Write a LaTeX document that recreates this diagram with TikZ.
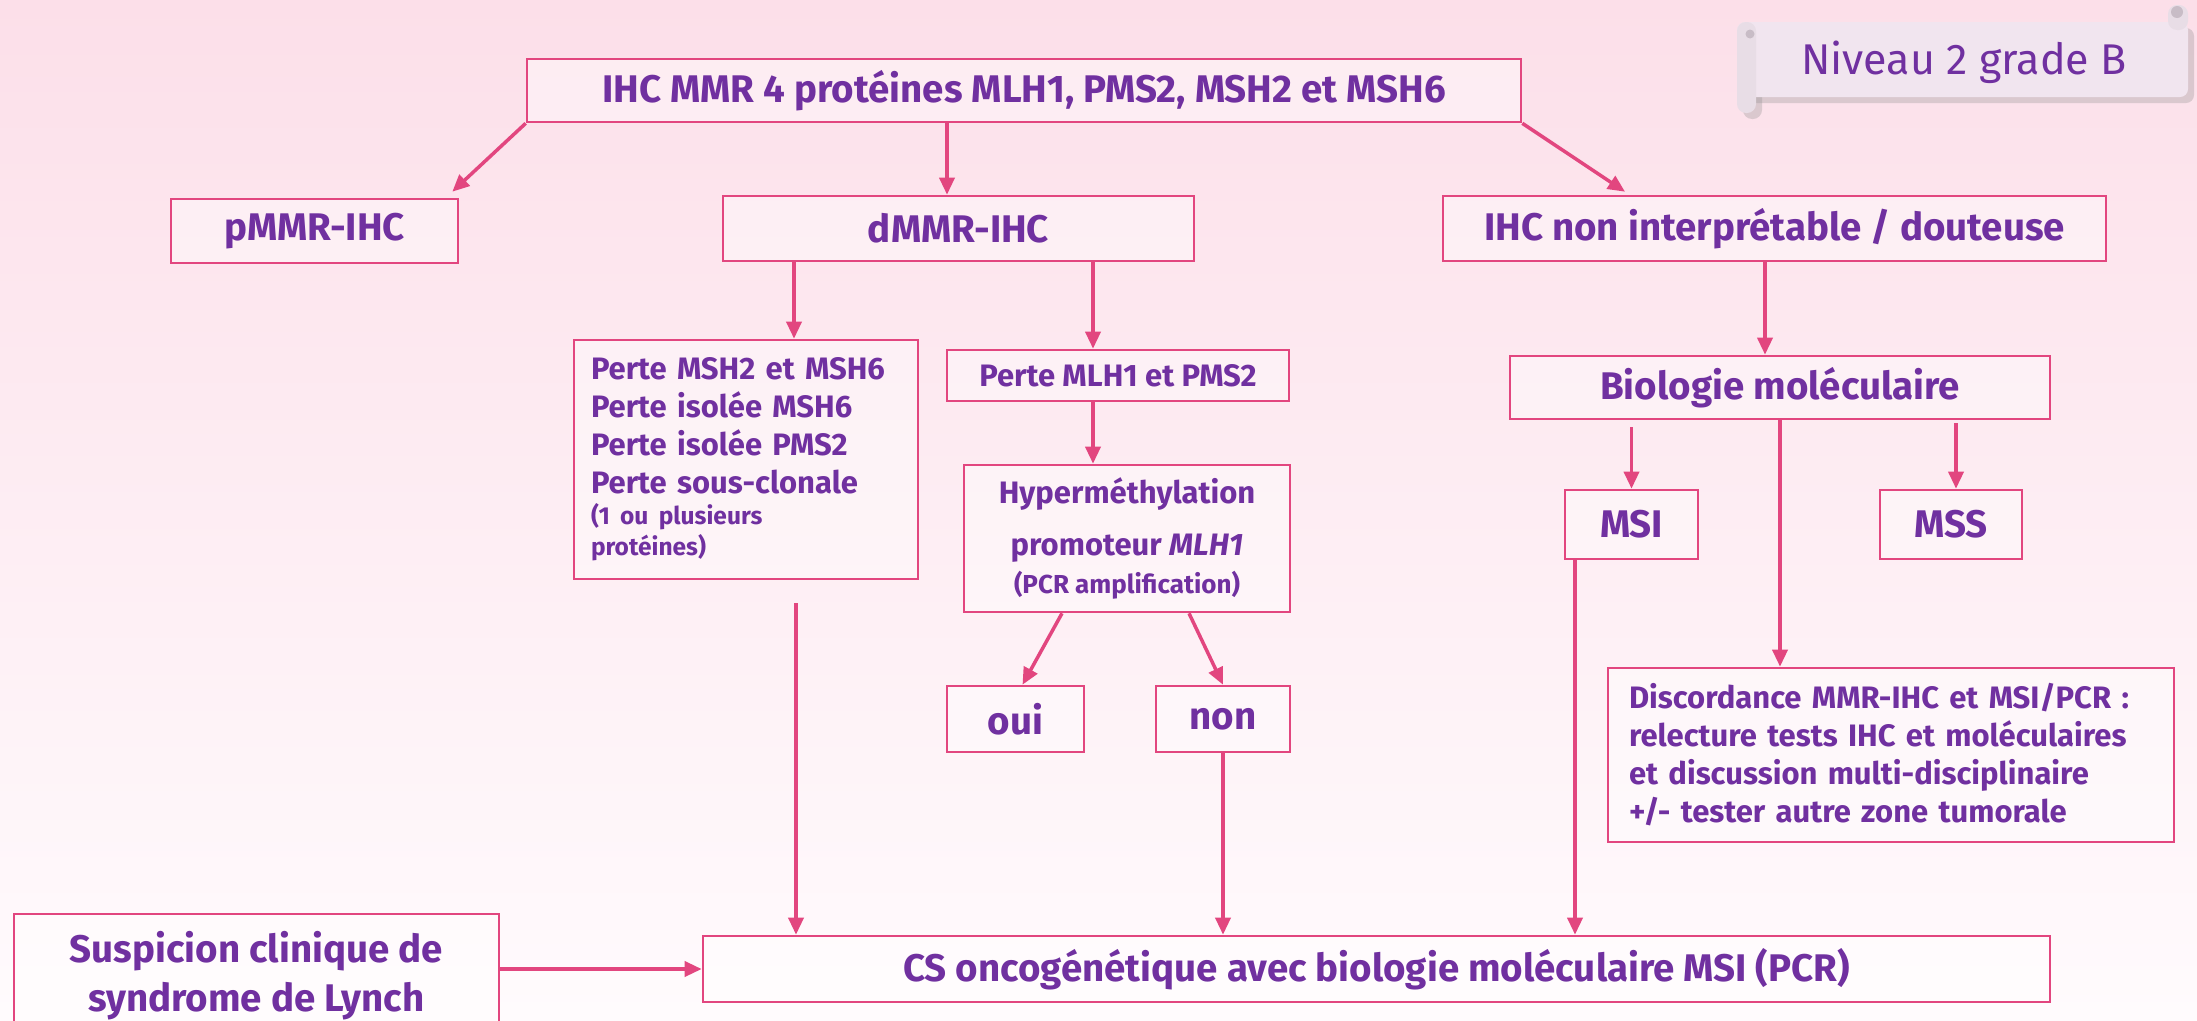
\documentclass[tikz,border=0pt]{standalone}
\usepackage{fontspec}
\setmainfont{Fira Sans}
\usetikzlibrary{arrows.meta,positioning}
\definecolor{mmrpink}{HTML}{E2467F}
\definecolor{mmrpurple}{HTML}{7030A0}
\definecolor{bgtop}{HTML}{FCDFE9}
\definecolor{bgmid}{HTML}{FDEEF3}
\definecolor{bgbot}{HTML}{FFFBFD}
\definecolor{badgefill}{HTML}{F1E5EF}
\definecolor{badgecurl}{HTML}{C8BCC6}

\begin{document}
\begin{tikzpicture}[x=1pt,y=-1pt,
    mmrbox/.style={draw=mmrpink,line width=2.6pt,fill=white,fill opacity=.4,text opacity=1,
      text=mmrpurple,inner sep=0pt,font=\bfseries\fontsize{38.5}{45}\selectfont},
    mmrtext/.style={font=\bfseries\fontsize{31}{38}\selectfont},
    mmrlink/.style={draw=mmrpink,line width=3.5pt,-{Triangle[length=17pt,width=15pt]}}]
        \useasboundingbox (0,0) rectangle (2197,1020);
        \shade[top color=bgtop,middle color=bgmid,bottom color=bgbot] (0,0) rectangle (2197,1020);

        % badge
        \fill[black!45,opacity=.3,rounded corners=8pt] (1743,28) rectangle (2194,103);
        \fill[black!45,opacity=.3,rounded corners=9pt] (1743,28) rectangle (1762,119);
        \fill[badgefill,rounded corners=8pt] (1737,22) rectangle (2188,97);
        \fill[badgefill!92!gray,rounded corners=9pt] (1737,22) rectangle (1756,113);
        \fill[badgefill!92!gray,rounded corners=9pt] (2168,5) rectangle (2188,30);
        \fill[badgecurl] (1750,34) circle (4.5pt);
        \fill[badgecurl] (2177,12) circle (6pt);
        \node[text=mmrpurple,font=\fontsize{43}{50}\selectfont] (niveau) at (1964,62) {Niveau 2 grade B};

        % boxes
        \node[mmrbox,minimum width=994pt,minimum height=63pt] (ihc) at (1024,90.5) {IHC MMR 4 protéines MLH1, PMS2, MSH2 et MSH6};
        \node[mmrbox,minimum width=287pt,minimum height=64pt] (pmmr) at (314.5,231) {pMMR-IHC};
        \node[mmrbox,minimum width=471pt,minimum height=65pt] (dmmr) at (958.5,228.5) {dMMR-IHC};
        \node[mmrbox,minimum width=663pt,minimum height=65pt] (douteuse) at (1774.5,228.5) {IHC non interprétable / douteuse};

        \node[mmrbox,mmrtext,text width=310pt,inner xsep=17pt,minimum height=239pt,align=left] (perteA) at (746,459.5)
          {Perte MSH2 et MSH6\\ Perte isolée MSH6\\ Perte isolée PMS2\\ Perte sous-clonale\par
           {\fontsize{24.5}{31}\selectfont (1 ou plusieurs\\ protéines)\par}};
        \node[mmrbox,mmrtext,minimum width=342pt,minimum height=51pt] (perteB) at (1118,375.5) {Perte MLH1 et PMS2};
        \node[mmrbox,mmrtext,minimum width=326pt,minimum height=147pt,align=center] (hyper) at (1127,538.5)
          {Hyperméthylation\\[14pt] promoteur \textit{MLH1}\\ {\fontsize{26}{31}\selectfont (PCR amplification)}};
        \node[mmrbox,minimum width=137pt,minimum height=66pt] (oui) at (1015.5,719) {oui};
        \node[mmrbox,minimum width=134pt,minimum height=66pt] (non) at (1223,719) {non};

        \node[mmrbox,minimum width=540pt,minimum height=63pt] (bio) at (1780,387.5) {Biologie moléculaire};
        \node[mmrbox,minimum width=133pt,minimum height=69pt] (msi) at (1631.5,524.5) {MSI};
        \node[mmrbox,minimum width=142pt,minimum height=69pt] (mss) at (1951,524.5) {MSS};
        \node[mmrbox,mmrtext,text width=524pt,inner xsep=21pt,minimum height=174pt,align=left] (discord) at (1891,755)
          {Discordance MMR-IHC et MSI/PCR :\\ relecture tests IHC et moléculaires\\ et discussion multi-disciplinaire\\ +/- tester autre zone tumorale};

        \node[mmrbox,minimum width=485pt,minimum height=124pt,align=center,font=\bfseries\fontsize{38.5}{49}\selectfont] (lynch) at (256.5,976)
          {Suspicion clinique de\\ syndrome de Lynch};
        \node[mmrbox,minimum width=1347pt,minimum height=66pt] (cs) at (1376.5,969) {CS oncogénétique avec biologie moléculaire MSI (PCR)};

        % connectors
        \coordinate (dIn) at ([xshift=-11.5pt]dmmr.north);
        \coordinate (aIn) at ([xshift=48pt]perteA.north);
        \coordinate (bIn) at ([xshift=-25pt]perteB.north);
        \coordinate (hIn) at ([xshift=-34pt]hyper.north);
        \coordinate (aOut) at ([xshift=50pt]perteA.south);
        \coordinate (msiOut) at ([xshift=-56.5pt]msi.south);
        \coordinate (dOut) at ([xshift=-9.5pt]douteuse.south);

        \draw[mmrlink] (ihc.south west) -- ([xshift=-7pt,yshift=6pt]pmmr.north east);
        \draw[mmrlink] (ihc.south -| dIn) -- (dIn);
        \draw[mmrlink] (ihc.south east) -- ([xshift=-149.5pt,yshift=3pt]douteuse.north);

        \draw[mmrlink] (dmmr.south -| aIn) -- (aIn);
        \draw[mmrlink] (dmmr.south -| bIn) -- (bIn);
        \draw[mmrlink] (perteB.south -| hIn) -- (hIn);
        \draw[mmrlink] ([xshift=-65pt]hyper.south) -- ([xshift=7pt]oui.north);
        \draw[mmrlink] ([xshift=62pt]hyper.south) -- (non.north);

        \draw[mmrlink,shorten <=23pt] (aOut) -- (cs.north -| aOut);
        \draw[mmrlink] (non.south) -- (cs.north -| non.south);
        \draw[mmrlink] (msiOut) -- (cs.north -| msiOut);
        \draw[mmrlink] (lynch.east |- cs.west) -- (cs.west);

        \draw[mmrlink] (dOut) -- (bio.north -| dOut);
        \draw[mmrlink,shorten <=7pt] (bio.south -| msi.north) -- (msi.north);
        \draw[mmrlink] (bio.south) -- (bio.south |- discord.north);
        \draw[mmrlink,shorten <=3pt] ([xshift=5pt]bio.south -| mss.north) -- ([xshift=5pt]mss.north);
      \end{tikzpicture}
\end{document}
